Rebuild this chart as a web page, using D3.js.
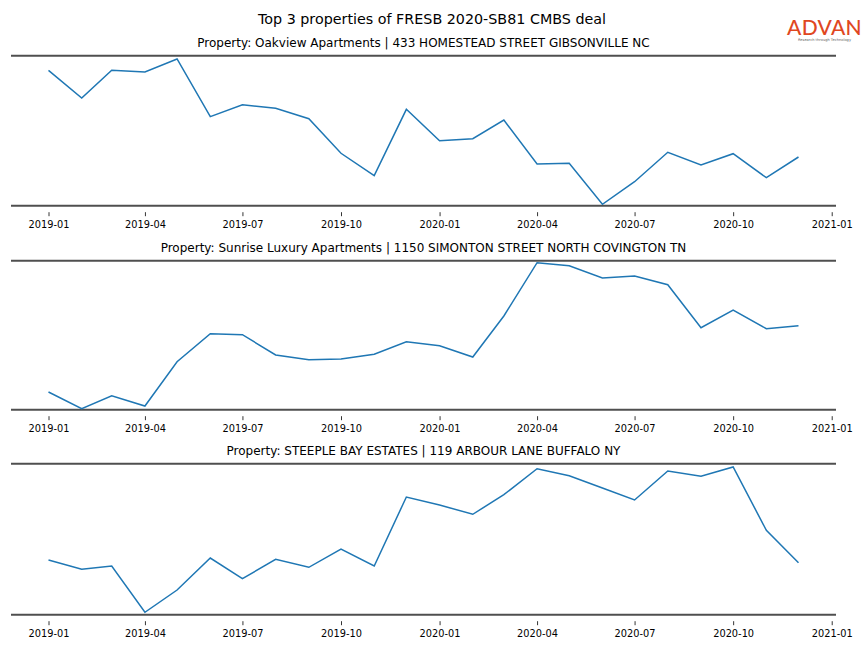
<!DOCTYPE html>
<html><head><meta charset="utf-8">
<script src="https://cdn.jsdelivr.net/npm/d3@7"></script>
<style>
body{margin:0;background:#fff;}
svg{display:block;font-family:"DejaVu Sans",sans-serif;}
</style></head><body>
<svg id="chart" width="864" height="648"></svg>
<script>
// ---- data ----
const months = ["2019-01","2019-02","2019-03","2019-04","2019-05","2019-06","2019-07","2019-08","2019-09","2019-10","2019-11","2019-12",
  "2020-01","2020-02","2020-03","2020-04","2020-05","2020-06","2020-07","2020-08","2020-09","2020-10","2020-11","2020-12"];
const tickLabels = ["2019-01","2019-04","2019-07","2019-10","2020-01","2020-04","2020-07","2020-10","2021-01"];
const mainTitle = "Top 3 properties of FRESB 2020-SB81 CMBS deal";
const propertyTitles = [
  "Property: Oakview Apartments | 433 HOMESTEAD STREET GIBSONVILLE NC",
  "Property: Sunrise Luxury Apartments | 1150 SIMONTON STREET NORTH COVINGTON TN",
  "Property: STEEPLE BAY ESTATES | 119 ARBOUR LANE BUFFALO NY"
];
const oakview   = [135.4,107.7,135.4,133.7,146.7,89,101,97.4,87,52.4,30,96.4,65,67,85.7,41.7,42.4,1.4,24,53.4,40.7,52,28,48.7];
const sunrise   = [17.7,1,14,3.7,48,76,75,54.7,50,50.7,55.4,68,64,52.7,93.7,147,144,131.7,133.7,125,82,99.7,81,84];
const steeple   = [54.7,45.4,48.7,2.4,24.7,56.7,36,55.4,47.4,65.7,48.7,117.7,109.7,100.4,120,146,139,126.7,114.7,143.7,138.4,147.7,84.4,52];
const seriesList = [oakview, sunrise, steeple];
const yDomains = [[0,150],[0,149],[0,151]];

// ---- layout ----
const svg = d3.select("#chart");
const parse = d3.timeParse("%Y-%m");
const dates = months.map(parse);
const left = 11, right = 836;
const panels = [{top:55.7,bottom:205.7},{top:260.7,bottom:409.7},{top:463.7,bottom:614.7}];
const pad = 35*24*3600*1000;
const x = d3.scaleTime()
  .domain([new Date(dates[0].getTime()-pad), new Date(dates[dates.length-1].getTime()+pad)])
  .range([left, right]);
const tickDates = tickLabels.map(parse);

svg.append("text").attr("x",432).attr("y",24).attr("text-anchor","middle")
  .attr("font-size",14.3).attr("fill","#000").text(mainTitle);

// logo
const logo = svg.append("g");
logo.append("text").attr("x",824.5).attr("y",34.5).attr("text-anchor","middle")
  .attr("font-family","Lato, 'Noto Sans', sans-serif").attr("font-size",21).attr("font-weight",500)
  .attr("fill","#e0471f").attr("letter-spacing",0.3).text("ADVAN");
logo.append("text").attr("x",824.5).attr("y",40.5).attr("text-anchor","middle")
  .attr("font-size",3.6).attr("fill","#666").text("Research through Technology");

panels.forEach((p,i)=>{
  const y = d3.scaleLinear().domain(yDomains[i]).range([p.bottom, p.top]);
  const g = svg.append("g");
  g.append("text").attr("x",(left+right)/2).attr("y",p.top-9).attr("text-anchor","middle")
    .attr("font-size",12).attr("fill","#000").text(propertyTitles[i]);
  g.append("line").attr("x1",left).attr("x2",right).attr("y1",p.top).attr("y2",p.top)
    .attr("stroke","#4f4f4f").attr("stroke-width",2);
  g.append("line").attr("x1",left).attr("x2",right).attr("y1",p.bottom).attr("y2",p.bottom)
    .attr("stroke","#4f4f4f").attr("stroke-width",2);
  const axis = d3.axisBottom(x).tickValues(tickDates).tickFormat(d3.timeFormat("%Y-%m"))
    .tickSize(4).tickPadding(4.5);
  const ag = g.append("g").attr("transform",`translate(0,${p.bottom+6.5})`).call(axis);
  ag.select(".domain").remove();
  ag.selectAll(".tick line").attr("stroke","#000").attr("stroke-width",0.8);
  ag.selectAll(".tick text").attr("font-size",9.8).attr("font-family","DejaVu Sans, sans-serif").attr("fill","#000");
  const line = d3.line().x((d,j)=>x(dates[j])).y(d=>y(d));
  g.append("path").datum(seriesList[i]).attr("d",line).attr("fill","none")
    .attr("stroke","#1f77b4").attr("stroke-width",1.5).attr("stroke-linejoin","miter");
});
</script>
</body></html>
